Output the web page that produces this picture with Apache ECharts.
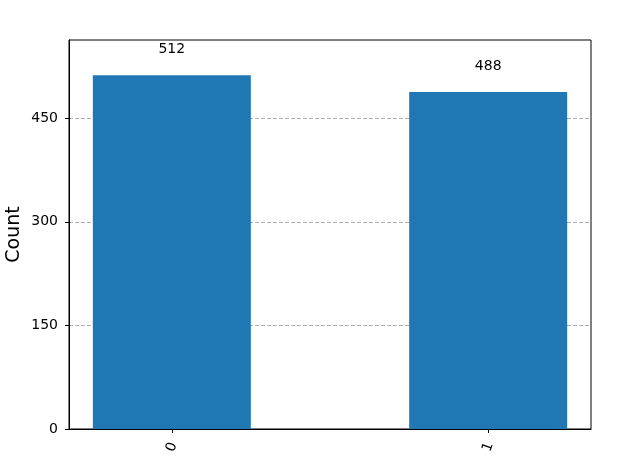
<!DOCTYPE html>
<html>
<head>
<meta charset="utf-8">
<script src="https://cdn.jsdelivr.net/npm/echarts@6/dist/echarts.min.js"></script>
<style>html,body{margin:0;padding:0;background:#fff;}#chart{width:635px;height:475px;}</style>
</head>
<body>
<div id="chart"></div>
<script>
const categories = ["0", "1"];
const counts = [512, 488];
const yTicks = [0, 150, 300, 450];

const chart = echarts.init(document.getElementById('chart'), null, {renderer: 'canvas'});
const font = 'DejaVu Sans';
const yMax = Math.max(...counts) * 1.1;

chart.setOption({
  animation: false,
  backgroundColor: '#fff',
  grid: {left: 69, right: 44, top: 40, bottom: 46, show: true, borderColor: '#000', borderWidth: 1,
    backgroundColor: 'transparent', outerBoundsMode: 'none', containLabel: false},
  xAxis: {
    type: 'value',
    min: -0.325, max: 1.325,
    axisLine: {show: true, onZero: false, lineStyle: {color: '#000', width: 1}},
    axisTick: {show: true, length: 4, lineStyle: {color: '#000'}, customValues: categories.map((c, i) => i)},
    axisLabel: {
      customValues: categories.map((c, i) => i),
      formatter: v => categories[Math.round(v)],
      rotate: 70, align: 'center', verticalAlign: 'middle',
      color: '#000', fontFamily: font, fontSize: 14, margin: 18
    },
    splitLine: {show: false}
  },
  yAxis: {
    type: 'value',
    min: 0, max: yMax,
    name: 'Count', nameLocation: 'middle', nameGap: 45, nameMoveOverlap: false,
    nameTextStyle: {fontFamily: font, fontSize: 19, color: '#000'},
    axisLine: {show: true, onZero: false, lineStyle: {color: '#000', width: 1}},
    axisTick: {show: true, length: 4, lineStyle: {color: '#000'}, customValues: yTicks},
    axisLabel: {customValues: yTicks, color: '#000', fontFamily: font, fontSize: 14, margin: 11},
    splitLine: {show: true, lineStyle: {color: '#b0b0b0', type: [4, 2], width: 1}},
    splitNumber: 4
  },
  series: [{
    type: 'bar',
    barWidth: 158,
    itemStyle: {color: '#1f77b4'},
    data: categories.map((c, i) => [i, counts[i]]),
    label: {show: true, position: 'top', distance: 19, color: '#000', fontFamily: font, fontSize: 14,
      formatter: p => String(p.value[1])}
  }]
});
</script>
</body>
</html>
